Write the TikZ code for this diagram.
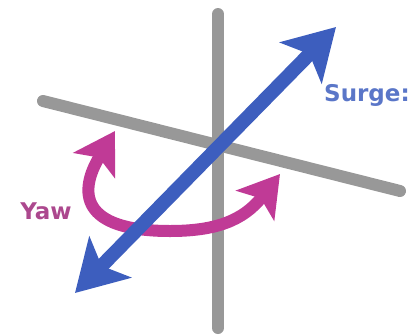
\documentclass[tikz,border=0pt]{standalone}
\usepackage{fontspec}
\setmainfont{DejaVu Sans}
\usepackage{tikz}
\usetikzlibrary{arrows.meta}
\definecolor{axisgray}{RGB}{152,152,152}
\definecolor{surgeblue}{RGB}{61,94,190}
\definecolor{yawpink}{RGB}{192,58,150}
\definecolor{yawtext}{RGB}{172,72,142}

\begin{document}
\begin{tikzpicture}[x=1pt, y=-1pt,
  axis/.style={line width=12pt, axisgray, line cap=round},
  surge/.style={line width=14pt, surgeblue,
    {Stealth[length=50pt, width=58pt, inset=12pt]}-{Stealth[length=50pt, width=58pt, inset=12pt]}},
  yaw/.style={line width=12pt, yawpink,
    {Stealth[length=40pt, width=48pt, inset=9pt]}-{Stealth[length=40pt, width=48pt, inset=9pt]}},
  lbl/.style={font=\bfseries\fontsize{23}{27}\selectfont, inner sep=0pt}]
  \useasboundingbox (0,0) rectangle (409,335);
  % axes
  \coordinate (T) at (218,14);
  \coordinate (B) at (218,328);
  \coordinate (L) at (43,101);
  \coordinate (R) at (400,191);
  \draw[axis] (T) -- (B);
  \draw[axis] (L) -- (R);
  % yaw
  \coordinate (Y1) at (115,131);
  \coordinate (Ym) at (170,231);
  \coordinate (Y2) at (280,174);
  \draw[yaw] (Y1) .. controls (78,192) and (80,231) .. (Ym)
    .. controls (215,231) and (243,221) .. (Y2);
  % surge
  \coordinate (S1) at (75,293);
  \coordinate (S2) at (336,27);
  \draw[surge] (S1) -- (S2);
  \node[lbl, text=surgeblue!85!white, anchor=west] (surge) at (324,95) {Surge:};
  \node[lbl, text=yawtext] (yawlbl) at (46,211) {Yaw};
\end{tikzpicture}
\end{document}
